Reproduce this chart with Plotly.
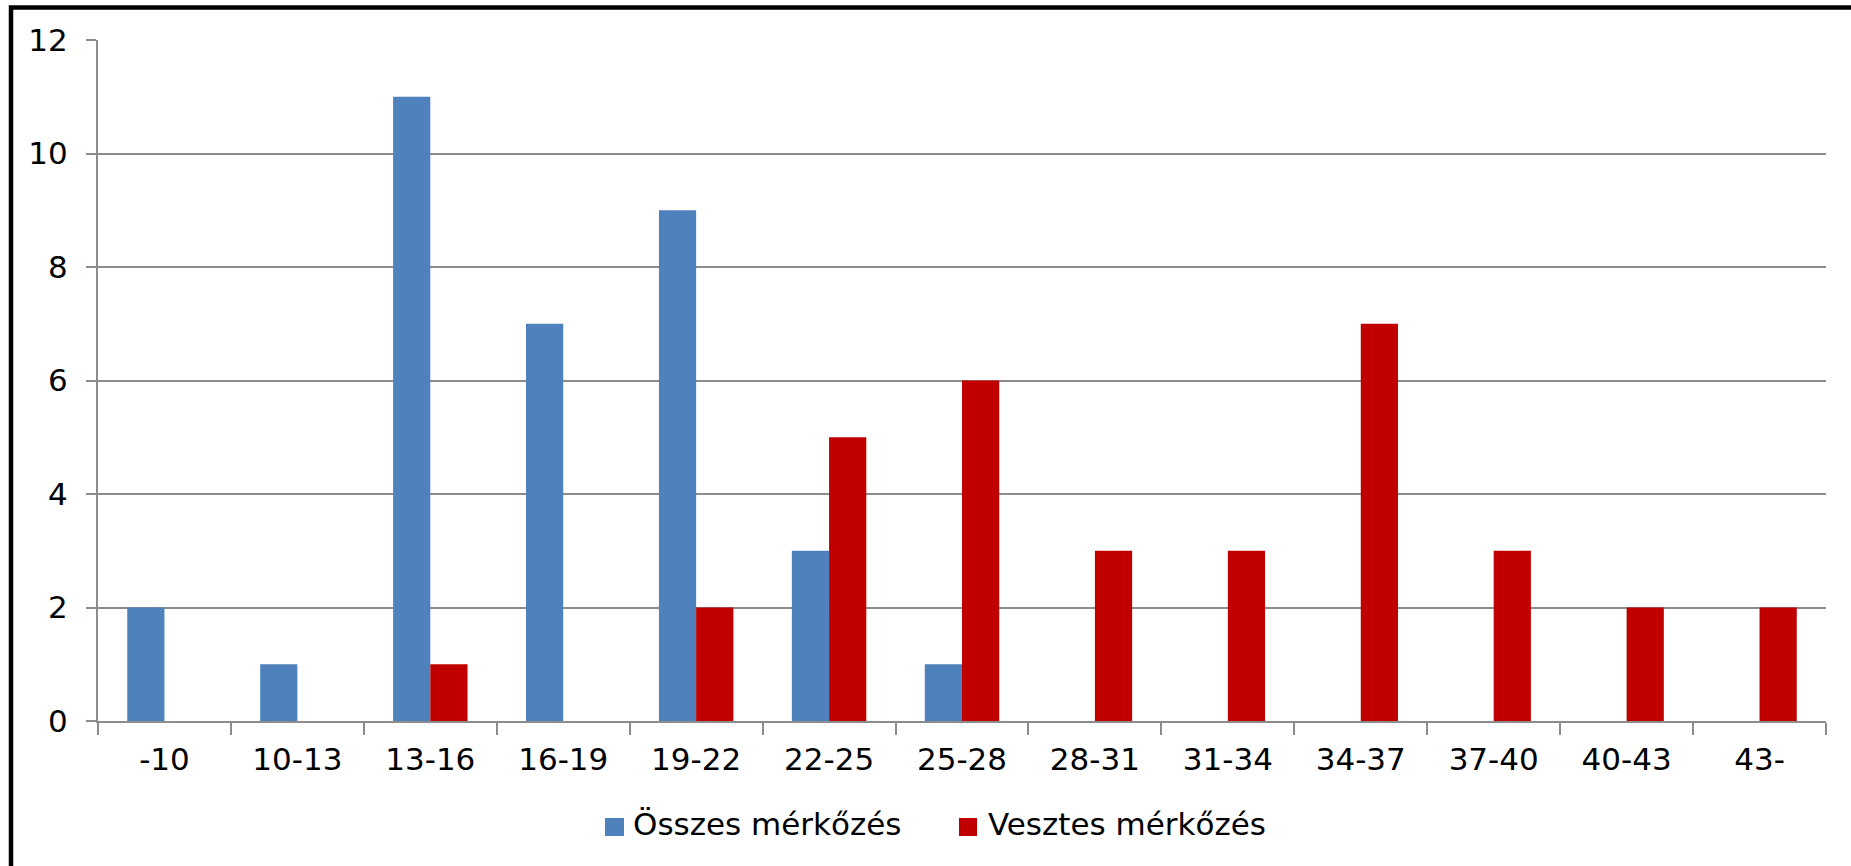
import plotly.graph_objects as go

# Age groups (years) and match counts per group
categories = ["-10", "10-13", "13-16", "16-19", "19-22", "22-25", "25-28",
              "28-31", "31-34", "34-37", "37-40", "40-43", "43-"]
osszes = [2, 1, 11, 7, 9, 3, 1, 0, 0, 0, 0, 0, 0]
vesztes = [0, 0, 1, 0, 2, 5, 6, 3, 3, 7, 3, 2, 2]
y_ticks = [0, 2, 4, 6, 8, 10, 12]
series_names = ["Összes mérkőzés", "Vesztes mérkőzés"]
series_colors = ["#4F81BD", "#C00000"]

W, H = 1851, 866
ML, MR, MT, MB = 98, 25, 40, 145
plot_w = W - ML - MR
plot_h = H - MT - MB


def px_x(px):
    return (px - ML) / plot_w


def px_y(py):
    return (MT + plot_h - py) / plot_h


fig = go.Figure()
for name, vals, col in zip(series_names, [osszes, vesztes], series_colors):
    fig.add_trace(go.Bar(name=name, x=categories, y=vals,
                         marker=dict(color=col, line=dict(width=0))))

axis_grey = "#8C8C8C"
fig.update_layout(
    width=W, height=H,
    margin=dict(l=ML, r=MR, t=MT, b=MB, pad=0),
    paper_bgcolor="white", plot_bgcolor="white",
    barmode="group", bargap=0.44, bargroupgap=0,
    font=dict(family="DejaVu Sans, Verdana, sans-serif", size=31, color="black"),
    xaxis=dict(
        type="category", tickson="boundaries", ticks="outside", ticklen=12,
        tickwidth=2, tickcolor=axis_grey, showline=True, linecolor=axis_grey,
        linewidth=2, showgrid=False, tickfont=dict(size=31),
        ticklabelstandoff=10,
    ),
    yaxis=dict(
        range=[0, 12], tickvals=y_ticks, ticks="outside", ticklen=10,
        tickwidth=2, tickcolor=axis_grey, showline=True, linecolor=axis_grey,
        linewidth=2, showgrid=True, gridcolor=axis_grey, gridwidth=2,
        zeroline=False, tickfont=dict(size=31), ticklabelstandoff=12,
    ),
    showlegend=False,
)

# Legend: coloured key squares followed by the series names
legend_items = [(605, 624, 632), (959, 977, 987)]
for (sx0, sx1, tx), name, col in zip(legend_items, series_names, series_colors):
    fig.add_shape(type="rect", xref="paper", yref="paper",
                  x0=px_x(sx0), x1=px_x(sx1), y0=px_y(836), y1=px_y(818),
                  line=dict(width=0), fillcolor=col)
    fig.add_annotation(xref="paper", yref="paper", x=px_x(tx), y=px_y(824),
                       xanchor="left", yanchor="middle", showarrow=False,
                       text=name, font=dict(size=31, color="black"),
                       borderpad=0)

# Black frame along the top and left edges
fig.add_shape(type="rect", xref="paper", yref="paper",
              x0=px_x(11), x1=2.0, y0=-1.0, y1=px_y(7.5),
              line=dict(color="black", width=4.5), fillcolor="rgba(0,0,0,0)")

fig.write_html("out.html")
